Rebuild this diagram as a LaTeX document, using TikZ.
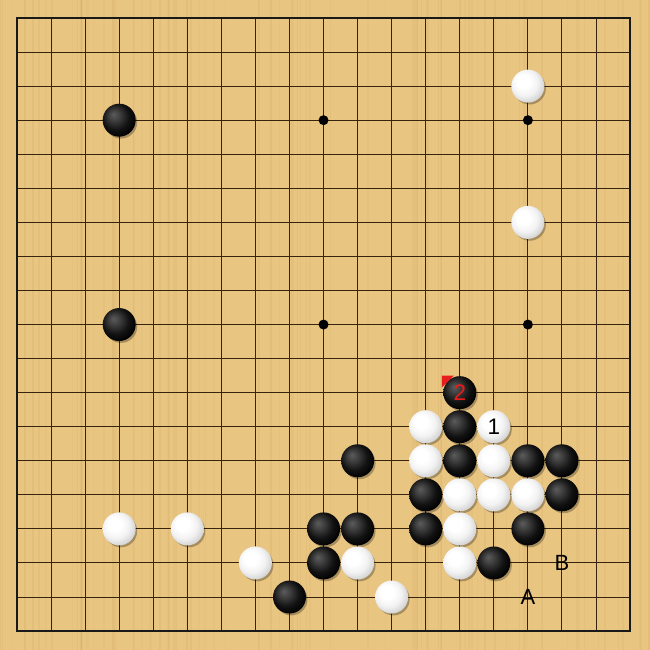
\documentclass[tikz,border=0pt]{standalone}
\usepackage{fontspec}
\setsansfont{Liberation Sans}
\definecolor{wood}{RGB}{233,197,130}
\definecolor{grain}{RGB}{195,150,80}
\definecolor{gridc}{RGB}{55,35,15}
\definecolor{markred}{RGB}{232,28,28}
\pgfdeclareradialshading{bstoneshade}{\pgfpoint{-9bp}{9bp}}{color(0bp)=(black!64); color(8bp)=(black!75); color(20bp)=(black!93); color(30bp)=(black); color(50bp)=(black)}
\pgfdeclareradialshading{wstoneshade}{\pgfpoint{-9bp}{9bp}}{color(0bp)=(white); color(10bp)=(white); color(20bp)=(black!5); color(29bp)=(black!17); color(37bp)=(black!30); color(50bp)=(black!35)}
\begin{document}
\begin{tikzpicture}[x=34.06pt,y=-34.06pt,
  gridline/.style={gridc, line width=1pt},
  boardedge/.style={black!90, line width=1.9pt},
  starpt/.style={circle, fill=black, inner sep=0pt, minimum size=10pt},
  stoneshadow/.style={fill=black, opacity=0.28},
  bstone/.style={circle, inner sep=0pt, minimum size=33pt, shading=bstoneshade, text=markred, font=\sffamily\fontsize{22.5}{22.5}\selectfont},
  wstone/.style={circle, inner sep=0pt, minimum size=33pt, shading=wstoneshade, text=black, font=\sffamily\fontsize{22.5}{22.5}\selectfont},
  boardlabel/.style={inner sep=0pt, text=black, font=\sffamily\fontsize{22}{22}\selectfont}
]
\useasboundingbox (-17pt,18pt) rectangle (633pt,-632pt);
% wood
\fill[wood] (-17pt,18pt) rectangle (633pt,-632pt);
\pgfmathsetseed{7}
\foreach \k in {1,...,90}{
  \pgfmathsetmacro{\gxpos}{-17+650*rnd}
  \pgfmathsetmacro{\gw}{0.4+2.2*rnd}
  \pgfmathsetmacro{\go}{0.04+0.10*rnd}
  \draw[grain, line width=\gw pt, opacity=\go] (\gxpos pt,18pt) -- (\gxpos pt,-632pt);
}
% grid
\foreach \i in {0,...,18}{
  \draw[gridline] (\i,0) -- (\i,18);
  \draw[gridline] (0,\i) -- (18,\i);
}
\draw[boardedge] (0,0) rectangle (18,18);
% star points
\foreach \c/\r in {3/3,9/3,15/3,3/9,9/9,15/9,3/15,9/15,15/15}{
  \node[starpt] (star-\c-\r) at (\c,\r) {};
}
% black stones
\foreach \c/\r/\t in {3/3/,3/9/,13/11/2,13/12/,10/13/,13/13/,15/13/,16/13/,12/14/,16/14/,9/15/,10/15/,12/15/,15/15/,9/16/,14/16/,8/17/}{
  \fill[stoneshadow] ([xshift=1.8pt,yshift=-2.2pt]\c,\r) circle (16.2pt);
  \node[bstone] (b-\c-\r) at (\c,\r) {\t};
}
% white stones
\foreach \c/\r/\t in {15/2/,15/6/,12/12/,14/12/1,12/13/,14/13/,13/14/,14/14/,15/14/,3/15/,5/15/,13/15/,7/16/,10/16/,13/16/,11/17/}{
  \fill[stoneshadow] ([xshift=1.8pt,yshift=-2.2pt]\c,\r) circle (16.2pt);
  \node[wstone] (w-\c-\r) at (\c,\r) {\t};
}
% last move marker
\fill[markred] ([shift={(-18pt,17pt)}]13,11) -- ++(12pt,0pt) -- ++(-12pt,-12pt) -- cycle;
% labels
\node[boardlabel] (lblA) at (15,17) {A};
\node[boardlabel] (lblB) at (16,16) {B};
\end{tikzpicture}
\end{document}
